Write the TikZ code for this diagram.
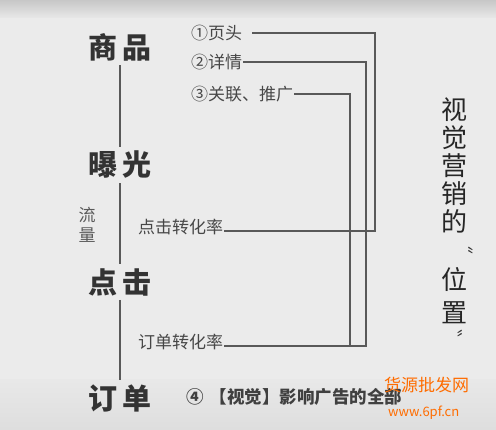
\documentclass[tikz,border=0pt]{standalone}
\usepackage{fontspec}
\newfontfamily\cjk{Noto Sans CJK SC}
\begin{document}
\begin{tikzpicture}[x=1pt,y=-1pt,
  big/.style={font=\cjk\bfseries\fontsize{29}{29}\selectfont, text=black!80, inner sep=4pt},
  small/.style={font=\cjk\fontsize{17}{17}\selectfont, text=black!72, inner sep=1pt},
  conn/.style={draw=black!65, line width=1.1pt},
  vert/.style={font=\cjk\fontsize{26}{28}\selectfont, text=black!85, align=center, inner sep=0pt},
  quot/.style={font=\cjk\fontsize{17}{17}\selectfont, text=black!80, inner sep=0pt}]
\shade[top color=black!22, bottom color=black!9, shading angle=0] (0,0) rectangle (496,18);
\fill[black!8] (0,18) rectangle (496,430);
\shade[top color=black!9, bottom color=black!13] (0,380) rectangle (496,430);
\useasboundingbox (0,0) rectangle (496,430);
% main column
\node[big] (sp) at (120,47) {商\hspace{5pt}品};
\node[big] (bg) at (120,165) {曝\hspace{5pt}光};
\node[big] (dj) at (120,282) {点\hspace{5pt}击};
\node[big] (dd) at (120,398) {订\hspace{5pt}单};
\draw[conn] (sp.south) -- (bg.north);
\draw[conn] (bg.south) -- (dj.north);
\draw[conn] (dj.south) -- (dd.north);
\node[font=\cjk\fontsize{17}{20}\selectfont, text=black!65, align=center, inner sep=0pt] (ll) at (87,225) {流\\量};
% items
\node[small, anchor=west] (p1) at (190,33) {①页头};
\node[small, anchor=west] (p2) at (190,62) {②详情};
\node[small, anchor=west] (p3) at (190,94) {③关联、推广};
\node[small, anchor=west] (r1) at (137,227) {点击转化率};
\node[small, anchor=west] (r2) at (137,342) {订单转化率};
\coordinate (k1) at (375,231);
\coordinate (k2) at (366,346);
\coordinate (k3) at (350,346);
\draw[conn] ([xshift=9pt]p1.east) -| (k1) -- (k1 -| r1.east);
\draw[conn] (p2.east) -| (k2) -- (k2 -| r2.east);
\draw[conn] (p3.east) -| (k3);
% bottom line
\node[font=\cjk\bfseries\fontsize{17.5}{17.5}\selectfont, text=black!75, anchor=west, inner sep=0pt] (bt) at (186,397) {④\hspace{6pt}【视觉】影响广告的全部};
% vertical title
\node[vert] (vt) at (454,165) {视\\觉\\营\\销\\的};
\node[vert, font=\cjk\fontsize{26}{33}\selectfont] (vw) at (454,296) {位\\置};
\node[quot] (q1) at (465,254) {〝};
\node[quot] (q2) at (465,337) {〞};
% watermark
\node[font=\cjk\fontsize{17}{17}\selectfont, text=orange!85!red, anchor=west, inner sep=0pt] (wm1) at (384,385) {货源批发网};
\node[font=\cjk\fontsize{13}{13}\selectfont, text=orange!85!red, anchor=west, inner sep=0pt] (wm2) at (388,413) {www.6pf.cn};
\end{tikzpicture}
\end{document}
